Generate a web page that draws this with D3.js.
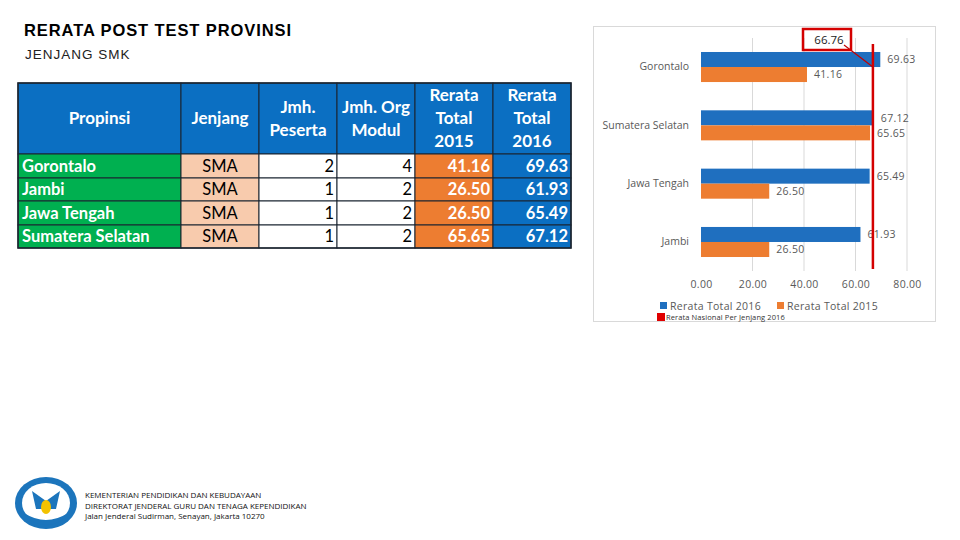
<!DOCTYPE html>
<html>
<head>
<meta charset="utf-8">
<script src="https://cdn.jsdelivr.net/npm/d3@7"></script>
<style>
  body { margin: 0; background: #fff; }
  svg { display: block; }
</style>
</head>
<body>
<svg id="page" width="960" height="540"></svg>
<script>
// table data
const tableHeaders = [['Propinsi'], ['Jenjang'], ['Jmh.', 'Peserta'], ['Jmh. Org', 'Modul'], ['Rerata', 'Total', '2015'], ['Rerata', 'Total', '2016']];
const provinces = ['Gorontalo', 'Jambi', 'Jawa Tengah', 'Sumatera Selatan'];
const jenjang = ['SMA', 'SMA', 'SMA', 'SMA'];
const peserta = [2, 1, 1, 1];
const orgModul = [4, 2, 2, 2];
const total2015 = [41.16, 26.50, 26.50, 65.65];
const total2016 = [69.63, 61.93, 65.49, 67.12];

// chart data (order as in the chart)
const chartCategories = ['Gorontalo', 'Sumatera Selatan', 'Jawa Tengah', 'Jambi'];
const chart2016 = [69.63, 67.12, 65.49, 61.93];
const chart2015 = [41.16, 65.65, 26.50, 26.50];
const nationalAvg = 66.76;
const xTicks = [0, 20, 40, 60, 80];
const seriesNames = ['Rerata Total 2016', 'Rerata Total 2015'];

const svg = d3.select('#page');
const blue = '#1F6FBF', orange = '#ED7D31', green = '#00B050', peach = '#F8CBAD';

// titles
svg.append('text').attr('x', 24).attr('y', 36)
    .attr('font-family', 'Liberation Sans, Arial').attr('font-weight', 'bold').attr('font-size', 16.5)
    .attr('letter-spacing', 0.9)
    .text('RERATA POST TEST PROVINSI');
svg.append('text').attr('x', 25).attr('y', 59)
    .attr('font-family', 'Liberation Sans, Arial').attr('font-size', 13.5).attr('fill', '#222')
    .attr('letter-spacing', 1)
    .text('JENJANG SMK');

// ---- table ----
const colEdges = [18, 181, 259, 337, 415, 493, 571];
const rowEdges = [154, 178, 201, 225, 248];
const headTop = 83;
const tableFont = 'Lato, Open Sans, sans-serif';
const table = svg.append('g');

tableHeaders.forEach((lines, c) => {
    const x0 = colEdges[c], x1 = colEdges[c + 1];
    table.append('rect').attr('x', x0).attr('y', headTop).attr('width', x1 - x0).attr('height', rowEdges[0] - headTop)
        .attr('fill', '#0B6FC2').attr('stroke', '#1b2430').attr('stroke-width', 1);
    const mid = (headTop + rowEdges[0]) / 2;
    lines.forEach((ln, i) => {
        table.append('text').attr('x', (x0 + x1) / 2).attr('y', mid + (i - (lines.length - 1) / 2) * 23)
            .attr('dy', '0.35em').attr('text-anchor', 'middle')
            .attr('font-family', tableFont).attr('font-weight', 'bold').attr('font-size', 17).attr('fill', '#fff')
            .text(ln);
    });
});

provinces.forEach((p, r) => {
    const y0 = rowEdges[r], y1 = rowEdges[r + 1], ym = (y0 + y1) / 2;
    const cells = [
        { v: p, fill: green, color: '#fff', bold: true, anchor: 'start' },
        { v: jenjang[r], fill: peach, color: '#000', bold: false, anchor: 'middle' },
        { v: peserta[r], fill: '#fff', color: '#000', bold: false, anchor: 'end' },
        { v: orgModul[r], fill: '#fff', color: '#000', bold: false, anchor: 'end' },
        { v: total2015[r].toFixed(2), fill: orange, color: '#fff', bold: true, anchor: 'end' },
        { v: total2016[r].toFixed(2), fill: '#0B6FC2', color: '#fff', bold: true, anchor: 'end' }
    ];
    cells.forEach((cell, c) => {
        const x0 = colEdges[c], x1 = colEdges[c + 1];
        table.append('rect').attr('x', x0).attr('y', y0).attr('width', x1 - x0).attr('height', y1 - y0)
            .attr('fill', cell.fill).attr('stroke', '#1b2430').attr('stroke-width', 1);
        const tx = cell.anchor === 'start' ? x0 + 4 : cell.anchor === 'middle' ? (x0 + x1) / 2 : x1 - 3;
        table.append('text').attr('x', tx).attr('y', ym).attr('dy', '0.36em').attr('text-anchor', cell.anchor)
            .attr('font-family', tableFont).attr('font-weight', cell.bold ? 'bold' : 'normal')
            .attr('font-size', 16.5).attr('fill', cell.color).text(cell.v);
    });
});
table.append('rect').attr('x', 18).attr('y', headTop).attr('width', 553).attr('height', 248 - headTop)
    .attr('fill', 'none').attr('stroke', '#1b2430').attr('stroke-width', 1.5);

// ---- chart ----
const chartFont = 'Open Sans, DejaVu Sans, sans-serif';
const grey = '#595959';
svg.append('rect').attr('x', 593.5).attr('y', 26.5).attr('width', 342).attr('height', 295)
    .attr('fill', '#fff').attr('stroke', '#d9d9d9');

const x = d3.scaleLinear().domain([0, 80]).range([701, 907]);
const y = d3.scaleBand().domain(chartCategories).range([38, 271]).paddingInner(0.485).paddingOuter(0.24);
const sub = d3.scaleBand().domain(seriesNames).range([0, y.bandwidth()]);

const chart = svg.append('g');
chart.selectAll('.grid').data(xTicks.slice(1)).enter().append('line')
    .attr('x1', d => x(d)).attr('x2', d => x(d)).attr('y1', 38).attr('y2', 271)
    .attr('stroke', '#d9d9d9').attr('stroke-width', 1);

const xAxis = d3.axisBottom(x).tickValues(xTicks).tickSize(0).tickFormat(d3.format('.2f'));
const xg = chart.append('g').attr('transform', 'translate(0,276)').call(xAxis);
xg.select('.domain').remove();
xg.selectAll('text').attr('font-family', chartFont).attr('font-size', 10.5).attr('fill', grey)
    .attr('letter-spacing', 0.3).attr('dy', '0.9em');

const yAxis = d3.axisLeft(y).tickSize(0).tickPadding(12);
const yg = chart.append('g').attr('transform', `translate(${x(0)},0)`).call(yAxis);
yg.select('.domain').remove();
yg.selectAll('text').attr('font-family', chartFont).attr('font-size', 10.5).attr('fill', grey);

const series = [
    { name: seriesNames[0], values: chart2016, color: blue },
    { name: seriesNames[1], values: chart2015, color: orange }
];
series.forEach(s => {
    const g = chart.append('g');
    g.selectAll('rect').data(chartCategories).enter().append('rect')
        .attr('x', x(0))
        .attr('y', d => y(d) + sub(s.name))
        .attr('width', (d, i) => x(s.values[i]) - x(0))
        .attr('height', sub.bandwidth())
        .attr('fill', s.color);
    g.selectAll('text').data(chartCategories).enter().append('text')
        .attr('x', (d, i) => x(s.values[i]) + 7)
        .attr('y', d => y(d) + sub(s.name) + sub.bandwidth() / 2)
        .attr('dy', '0.35em')
        .attr('font-family', chartFont).attr('font-size', 10.5).attr('fill', grey).attr('letter-spacing', 0.3)
        .text((d, i) => s.values[i].toFixed(2));
});

// national average line + callout
chart.append('line').attr('x1', x(nationalAvg)).attr('x2', x(nationalAvg)).attr('y1', 44).attr('y2', 269)
    .attr('stroke', '#d40000').attr('stroke-width', 2.5);
chart.append('line').attr('x1', 844).attr('y1', 45).attr('x2', x(nationalAvg)).attr('y2', 67)
    .attr('stroke', '#c00000').attr('stroke-width', 1.2);
chart.append('rect').attr('x', 803).attr('y', 29).attr('width', 48).attr('height', 21)
    .attr('fill', 'none').attr('stroke', '#d40000').attr('stroke-width', 2.5);
chart.append('text').attr('x', 829).attr('y', 40).attr('dy', '0.35em').attr('text-anchor', 'middle')
    .attr('font-family', chartFont).attr('font-size', 11.5).attr('fill', '#222').text(nationalAvg.toFixed(2));

// legend
const legend = chart.append('g');
[[660, seriesNames[0], blue], [777, seriesNames[1], orange]].forEach(([lx, name, col]) => {
    legend.append('rect').attr('x', lx).attr('y', 302).attr('width', 7).attr('height', 7).attr('fill', col);
    legend.append('text').attr('x', lx + 10).attr('y', 306).attr('dy', '0.35em')
        .attr('font-family', chartFont).attr('font-size', 10.5).attr('fill', grey).attr('letter-spacing', 0.3)
        .text(name);
});
legend.append('rect').attr('x', 657).attr('y', 313).attr('width', 8).attr('height', 8).attr('fill', '#e00000');
legend.append('text').attr('x', 666).attr('y', 317).attr('dy', '0.35em')
    .attr('font-family', chartFont).attr('font-size', 7.5).attr('fill', '#333').attr('letter-spacing', 0.1)
    .text('Rerata Nasional Per Jenjang 2016');

// ---- footer logo + address ----
const logo = svg.append('g').attr('transform', 'translate(46,503)');
logo.append('ellipse').attr('rx', 31).attr('ry', 26).attr('fill', '#1c75bc');
logo.append('ellipse').attr('rx', 24).attr('ry', 20).attr('fill', '#fff');
logo.append('path').attr('d', 'M-14,-12 L0,-2 L14,-12 L10,6 L-10,6 Z').attr('fill', '#1c75bc');
logo.append('ellipse').attr('cy', 4).attr('rx', 5).attr('ry', 7).attr('fill', '#f2c200');
logo.append('path').attr('d', 'M-22,10 Q0,24 22,10 L18,16 Q0,28 -18,16 Z').attr('fill', '#1c75bc');

const footer = ['KEMENTERIAN PENDIDIKAN DAN KEBUDAYAAN', 'DIREKTORAT JENDERAL GURU DAN TENAGA KEPENDIDIKAN', 'Jalan Jenderal Sudirman, Senayan, Jakarta 10270'];
svg.selectAll('.foot').data(footer).enter().append('text')
    .attr('x', 85).attr('y', (d, i) => 498 + i * 10.5)
    .attr('font-family', chartFont).attr('font-size', 8).attr('fill', '#111')
    .text(d => d);
</script>
</body>
</html>
